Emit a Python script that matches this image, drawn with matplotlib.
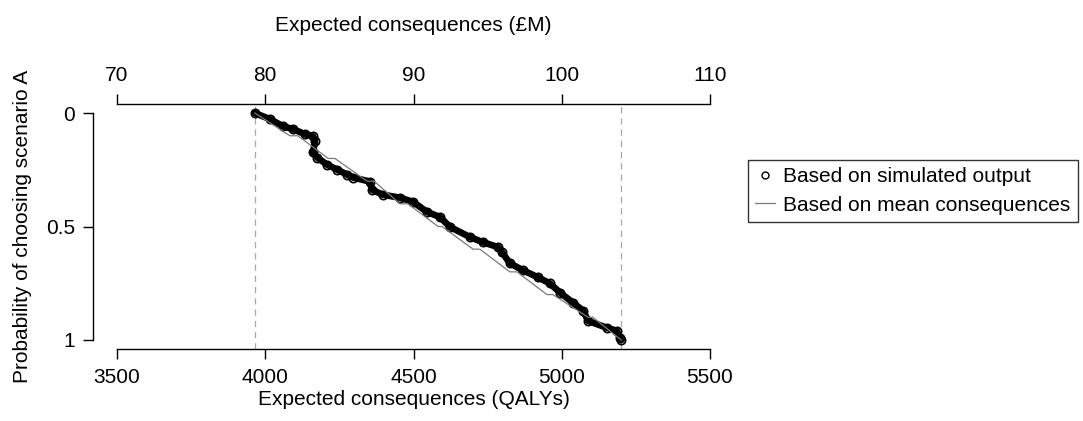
import matplotlib

matplotlib.use("Agg")
import matplotlib.pyplot as plt
from matplotlib.lines import Line2D

plt.rcParams["font.family"] = ["Liberation Sans", "DejaVu Sans"]
plt.rcParams["font.size"] = 15

# Simulated output: expected consequences (QALYs) vs probability of choosing A
sim_qalys = [
    3965, 4016, 4060, 4094, 4134, 4161, 4168, 4161, 4175, 4208, 4242, 4276,
    4296, 4353, 4360, 4397, 4454, 4498, 4546, 4589, 4623, 4691, 4734, 4785,
    4798, 4825, 4869, 4920, 4960, 4994, 5038, 5072, 5089, 5153, 5186, 5196,
    5200,
]
sim_prob = [
    0.0, 0.027, 0.058, 0.071, 0.093, 0.102, 0.124, 0.173, 0.196, 0.227,
    0.249, 0.271, 0.284, 0.302, 0.338, 0.36, 0.373, 0.391, 0.436, 0.458,
    0.502, 0.547, 0.569, 0.591, 0.613, 0.662, 0.693, 0.724, 0.751, 0.791,
    0.836, 0.871, 0.916, 0.947, 0.96, 0.991, 1.0,
]

# Curve based on mean consequences
mean_qalys = [
    3965, 4083, 4110, 4212, 4235, 4343, 4367, 4454, 4481, 4583, 4596,
    4701, 4724, 4825, 4849, 4950, 4970, 5089, 5105, 5200,
]
mean_prob = [
    0.0, 0.1, 0.1, 0.2, 0.2, 0.3, 0.3, 0.4, 0.4, 0.5, 0.5,
    0.6, 0.6, 0.7, 0.7, 0.8, 0.8, 0.9, 0.9, 1.0,
]

range_limits = [3965, 5200]

qaly_ticks = [3500, 4000, 4500, 5000, 5500]
money_ticks = [70, 80, 90, 100, 110]
prob_ticks = [0, 0.5, 1]
prob_labels = ["0", "0.5", "1"]


def money_to_qaly(m):
    return 3500 + (m - 70) * 50


def qaly_to_money(q):
    return 70 + (q - 3500) / 50


fig = plt.figure(figsize=(10.83, 4.21), dpi=100)
ax = fig.add_axes([93 / 1083, 72 / 421, 641 / 1083, 245 / 421])

ax.set_xlim(3419, 5581)
ax.set_ylim(1.04, -0.04)

for q in range_limits:
    ax.axvline(q, color="#a8a8a8", lw=0.9, ls=(0, (5, 4)), zorder=1)

ax.plot(sim_qalys, sim_prob, color="black", lw=4.8, solid_capstyle="round",
        solid_joinstyle="round", zorder=2)
ax.plot(sim_qalys, sim_prob, ls="none", marker="o", ms=6, mfc="none",
        mec="black", mew=1.2, zorder=3)
ax.plot(mean_qalys, mean_prob, color="#7a7a7a", lw=0.9, zorder=4)

for side in ("right", "top"):
    ax.spines[side].set_visible(False)
ax.spines["bottom"].set_bounds(3500, 5500)
ax.spines["left"].set_bounds(0, 1)
for side in ("bottom", "left"):
    ax.spines[side].set_linewidth(1.0)

ax.set_xticks(qaly_ticks)
ax.set_yticks(prob_ticks, prob_labels)
ax.tick_params(axis="x", direction="out", length=7, width=1.0, pad=7)
ax.tick_params(axis="y", direction="out", length=7, width=1.0, pad=6)
ax.set_xlabel("Expected consequences (QALYs)", labelpad=2)
ax.set_ylabel("Probability of choosing scenario A", labelpad=10)

top = ax.secondary_xaxis("top", functions=(qaly_to_money, money_to_qaly))
top.set_xticks(money_ticks)
top.spines["top"].set_bounds(70, 110)
top.spines["top"].set_linewidth(1.0)
top.tick_params(direction="out", length=7, width=1.0, pad=7)
top.set_xlabel("Expected consequences (£M)", labelpad=25)

handles = [
    Line2D([], [], ls="none", marker="o", ms=5, mfc="none", mec="black",
           mew=1.0),
    Line2D([], [], color="#7a7a7a", lw=0.9),
]
leg = fig.legend(
    handles,
    ["Based on simulated output", "Based on mean consequences"],
    loc="upper left",
    bbox_to_anchor=(748 / 1083, 1 - 160 / 421),
    frameon=True,
    fancybox=False,
    edgecolor="black",
    handlelength=0.95,
    handletextpad=0.4,
    borderpad=0.35,
    labelspacing=0.45,
    borderaxespad=0,
)
leg.get_frame().set_linewidth(1.0)

fig.savefig("out.png", dpi=100)
